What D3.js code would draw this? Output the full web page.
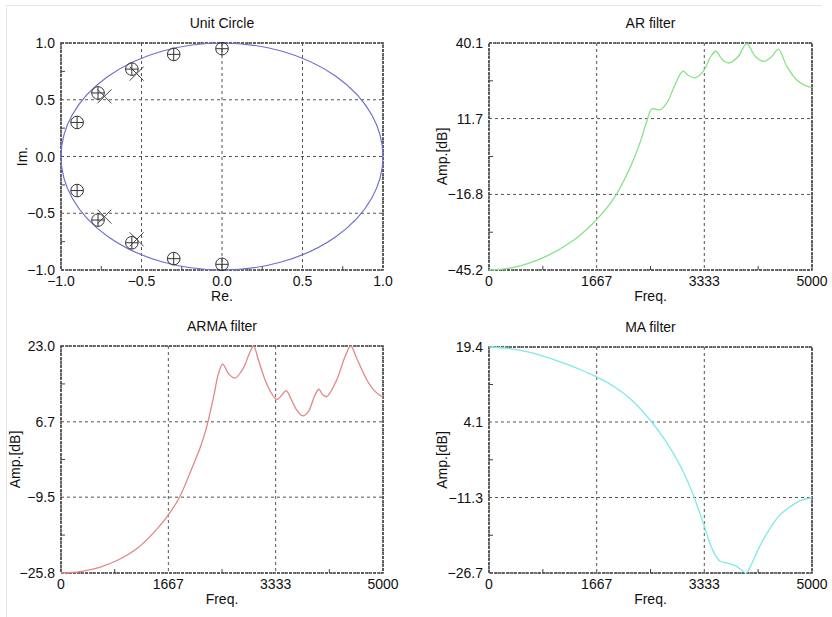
<!DOCTYPE html>
<html>
<head>
<meta charset="utf-8">
<script src="https://cdn.jsdelivr.net/npm/d3@7"></script>
<style>
  body { margin: 0; background: #fff; }
  text { font-family: "Liberation Sans", Arial, Helvetica, sans-serif; font-size: 14px; fill: #111; }
</style>
</head>
<body>
<svg id="chart" width="832" height="617"></svg>
<script>
// pole/zero positions
const circRe = [0.0, -0.30, -0.56, -0.77, -0.90, -0.90, -0.77, -0.56, -0.30, 0.0];
const circIm = [0.95, 0.90, 0.77, 0.56, 0.30, -0.30, -0.56, -0.76, -0.90, -0.95];
const crossRe = [-0.53, -0.73, -0.73, -0.53];
const crossIm = [0.73, 0.53, -0.53, -0.73];

// AR filter response
const arFreq = [0, 300, 600, 900, 1200, 1400, 1600, 1800, 1950, 2100, 2250, 2350, 2440, 2520, 2580, 2650,
  2750, 2880, 2960, 3010, 3080, 3190, 3320, 3420, 3510, 3620, 3720, 3860, 3990, 4120, 4250, 4380,
  4480, 4610, 4760, 4880, 5000];
const arDb = [-45.2, -44.6, -42.8, -39.9, -35.8, -32.3, -27.9, -22.6, -17.6, -11.0, -3.0, 3.5, 10.5, 15.4, 15.2, 15.0,
  17.5, 24.4, 28.4, 29.5, 28.0, 27.0, 29.5, 34.5, 37.0, 33.6, 32.6, 35.1, 39.9, 35.1, 33.2, 35.1,
  37.8, 31.3, 26.3, 24.3, 23.3];

// ARMA filter response
const armaFreq = [0, 300, 600, 900, 1200, 1500, 1667, 1840, 2020, 2170, 2260, 2370, 2440, 2510, 2600, 2700,
  2830, 2925, 2990, 3065, 3170, 3270, 3350, 3420, 3495, 3580, 3660, 3755, 3840, 3945, 4005, 4060,
  4125, 4280, 4410, 4500, 4590, 4750, 4880, 5000];
const armaDb = [-25.8, -25.5, -24.6, -22.9, -20.3, -16.2, -13.3, -9.5, -3.7, 1.5, 5.5, 12.1, 16.8, 19.1, 17.1, 16.1,
  18.2, 21.4, 23.0, 20.0, 15.7, 12.8, 11.5, 12.3, 13.4, 11.4, 9.2, 8.0, 8.9, 12.5, 13.7, 12.6,
  12.1, 15.7, 20.7, 23.0, 20.4, 15.7, 13.2, 12.0];

// MA filter response
const maFreq = [0, 300, 600, 900, 1200, 1500, 1667, 1950, 2200, 2500, 2730, 2940, 3140, 3240, 3330, 3420,
  3500, 3580, 3700, 3810, 3910, 3980, 4070, 4200, 4350, 4500, 4660, 4810, 5000];
const maDb = [19.4, 19.1, 18.4, 17.3, 15.9, 14.3, 13.3, 11.2, 8.7, 4.4, 0.3, -4.3, -10.0, -13.6, -17.0, -20.6,
  -23.0, -24.3, -24.7, -25.2, -26.1, -26.7, -24.7, -21.0, -17.6, -14.9, -13.2, -12.0, -11.3];

// tick labels
const unitTicks = [-1, -0.5, 0, 0.5, 1];
const unitLabels = ["\u22121.0", "\u22120.5", "0.0", "0.5", "1.0"];
const freqTicks = [0, 1667, 3333, 5000];
const freqLabels = ["0", "1667", "3333", "5000"];
const arTicks = [-45.2, -16.8, 11.7, 40.1];
const arLabels = ["\u221245.2", "\u221216.8", "11.7", "40.1"];
const armaTicks = [-25.8, -9.5, 6.7, 23.0];
const armaLabels = ["\u221225.8", "\u22129.5", "6.7", "23.0"];
const maTicks = [-26.7, -11.3, 4.1, 19.4];
const maLabels = ["\u221226.7", "\u221211.3", "4.1", "19.4"];

const svg = d3.select("#chart");

// faint frame of the figure window
svg.append("path")
  .attr("d", "M6.5,640V5.5H822")
  .attr("fill", "none")
  .attr("stroke", "#e6e6e6");

let clipId = 0;

function panel(o) {
  const x = d3.scaleLinear().domain(o.xDomain).range([o.left, o.right]);
  const y = d3.scaleLinear().domain(o.yDomain).range([o.bottom, o.top]);
  const g = svg.append("g");

  // grid
  g.selectAll(".gx").data(o.xTicks).enter().append("line")
    .attr("x1", d => x(d)).attr("x2", d => x(d))
    .attr("y1", o.top).attr("y2", o.bottom)
    .attr("stroke", "#555").attr("stroke-dasharray", "3,3");
  g.selectAll(".gy").data(o.yTicks).enter().append("line")
    .attr("y1", d => y(d)).attr("y2", d => y(d))
    .attr("x1", o.left).attr("x2", o.right)
    .attr("stroke", "#555").attr("stroke-dasharray", "3,3");

  // minor ticks, halfway between grid lines
  const mid = t => d3.pairs(t, (a, b) => (a + b) / 2);
  g.selectAll(".mx").data(mid(o.xTicks)).enter().append("line")
    .attr("x1", d => x(d)).attr("x2", d => x(d))
    .attr("y1", o.bottom).attr("y2", o.bottom - 4)
    .attr("stroke", "#444");
  g.selectAll(".my").data(mid(o.yTicks)).enter().append("line")
    .attr("y1", d => y(d)).attr("y2", d => y(d))
    .attr("x1", o.left).attr("x2", o.left + 4)
    .attr("stroke", "#444");

  // border
  g.append("rect")
    .attr("x", o.left).attr("y", o.top)
    .attr("width", o.right - o.left).attr("height", o.bottom - o.top)
    .attr("fill", "none").attr("stroke", "#444").attr("stroke-width", 1.6)
    .attr("stroke-dasharray", "3,1");

  // tick labels
  g.selectAll(".lx").data(o.xTicks).enter().append("text")
    .attr("x", d => x(d)).attr("y", o.bottom + 16)
    .attr("text-anchor", "middle")
    .text((d, i) => o.xLabels[i]);
  g.selectAll(".ly").data(o.yTicks).enter().append("text")
    .attr("x", o.left - 6).attr("y", d => y(d))
    .attr("dy", "0.36em")
    .attr("text-anchor", "end")
    .text((d, i) => o.yLabels[i]);

  // titles
  const cx = (o.left + o.right) / 2;
  g.append("text").attr("x", cx).attr("y", o.top - 15)
    .attr("text-anchor", "middle").text(o.title);
  g.append("text").attr("x", cx).attr("y", o.bottom + 31)
    .attr("text-anchor", "middle").text(o.xTitle);
  g.append("text")
    .attr("transform", `translate(${o.left - o.yTitleOff},${(o.top + o.bottom) / 2}) rotate(-90)`)
    .attr("text-anchor", "middle").text(o.yTitle);

  const id = "clip" + (clipId++);
  svg.append("clipPath").attr("id", id).append("rect")
    .attr("x", o.left).attr("y", o.top - 1)
    .attr("width", o.right - o.left).attr("height", o.bottom - o.top + 2);
  const plot = g.append("g").attr("clip-path", `url(#${id})`);
  return { g, plot, x, y };
}

function response(o, freqs, dbs, color) {
  const p = panel(o);
  const line = d3.line()
    .x(d => p.x(d[0]))
    .y(d => p.y(d[1]))
    .curve(d3.curveCatmullRom.alpha(0.5));
  p.plot.append("path")
    .datum(d3.zip(freqs, dbs))
    .attr("fill", "none")
    .attr("stroke", color)
    .attr("stroke-width", 1.3)
    .attr("d", line);
}

// Unit circle
const uc = panel({
  left: 61, right: 383, top: 43, bottom: 270,
  xDomain: [-1, 1], yDomain: [-1, 1],
  xTicks: unitTicks, yTicks: unitTicks, xLabels: unitLabels, yLabels: unitLabels,
  title: "Unit Circle", xTitle: "Re.", yTitle: "Im.", yTitleOff: 34
});
uc.g.append("ellipse")
  .attr("cx", uc.x(0)).attr("cy", uc.y(0))
  .attr("rx", uc.x(1) - uc.x(0)).attr("ry", uc.y(0) - uc.y(1))
  .attr("fill", "none").attr("stroke", "#6f6fcf").attr("stroke-width", 1.2);

const circ = uc.g.selectAll(".oplus").data(d3.zip(circRe, circIm)).enter().append("g")
  .attr("transform", d => `translate(${uc.x(d[0])},${uc.y(d[1])})`)
  .attr("stroke", "#333").attr("fill", "none");
circ.append("circle").attr("r", 6.3);
circ.append("path").attr("d", "M-6.3,0H6.3M0,-6.3V6.3");

uc.g.selectAll(".cross").data(d3.zip(crossRe, crossIm)).enter().append("path")
  .attr("transform", d => `translate(${uc.x(d[0])},${uc.y(d[1])})`)
  .attr("d", "M-7,-7L7,7M-7,7L7,-7")
  .attr("stroke", "#444").attr("fill", "none");

response({
  left: 489, right: 812, top: 43, bottom: 270,
  xDomain: [0, 5000], yDomain: [-45.2, 40.1],
  xTicks: freqTicks, yTicks: arTicks, xLabels: freqLabels, yLabels: arLabels,
  title: "AR filter", xTitle: "Freq.", yTitle: "Amp.[dB]", yTitleOff: 42
}, arFreq, arDb, "#86e386");

response({
  left: 61, right: 383, top: 346, bottom: 573,
  xDomain: [0, 5000], yDomain: [-25.8, 23.0],
  xTicks: freqTicks, yTicks: armaTicks, xLabels: freqLabels, yLabels: armaLabels,
  title: "ARMA filter", xTitle: "Freq.", yTitle: "Amp.[dB]", yTitleOff: 41
}, armaFreq, armaDb, "#e38686");

response({
  left: 489, right: 812, top: 347, bottom: 573,
  xDomain: [0, 5000], yDomain: [-26.7, 19.4],
  xTicks: freqTicks, yTicks: maTicks, xLabels: freqLabels, yLabels: maLabels,
  title: "MA filter", xTitle: "Freq.", yTitle: "Amp.[dB]", yTitleOff: 42
}, maFreq, maDb, "#7fe9e9");
</script>
</body>
</html>
